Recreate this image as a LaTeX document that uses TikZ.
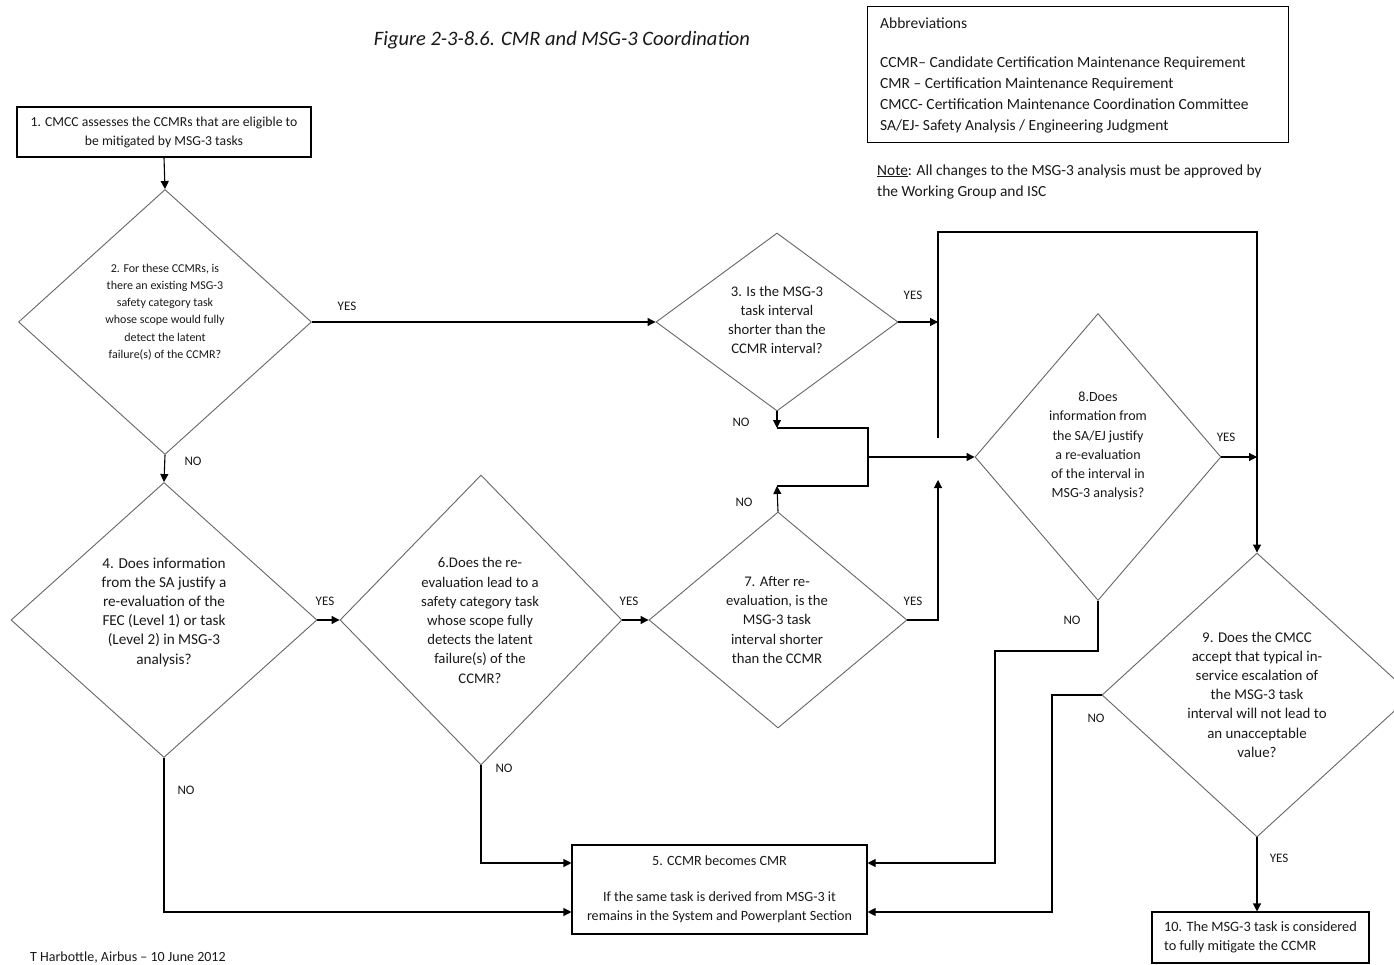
\documentclass[tikz,border=0pt]{standalone}
\usepackage{fontspec}
\setmainfont{Carlito}
\usetikzlibrary{shapes.geometric,arrows.meta}
\begin{document}
\begin{tikzpicture}[x=1pt,y=-1pt,
  every node/.style={inner sep=0pt, text=black!90},
  dia/.style={diamond, draw=black!60, line width=0.9pt, inner sep=0pt},
  qtext/.style={align=center, font=\fontsize{14.7}{19.2}\selectfont},
  boxnode/.style={draw=black, line width=1.1pt, align=center},
  lbl/.style={font=\fontsize{13}{14}\selectfont},
  arr/.style={line width=1.1pt, -{Triangle[length=8pt,width=8pt]}},
  ln/.style={line width=1.1pt},
]
\clip (0,0) rectangle (1394,965);
\fill[white] (0,0) rectangle (1394,965);

% title
\node[font=\fontsize{20.5}{24}\selectfont\itshape] (title) at (562,40) {Figure 2-3-8.6. CMR and MSG-3 Coordination};

% abbreviations
\node[draw=black, line width=1.1pt, minimum width=421, minimum height=136, anchor=north west] (abb) at (867,6) {};
\node[anchor=north west, align=left, font=\fontsize{15.5}{21}\selectfont] (abbt) at (880,17.5) {Abbreviations\\[18pt]
CCMR-- Candidate Certification Maintenance Requirement\\
CMR -- Certification Maintenance Requirement\\
CMCC- Certification Maintenance Coordination Committee\\
SA/EJ- Safety Analysis / Engineering Judgment};
\node[anchor=west, align=left, font=\fontsize{15.4}{21}\selectfont] (note) at (877,181.5) {\underline{Note}: All changes to the MSG-3 analysis must be approved by\\the Working Group and ISC};

% credit
\node[anchor=west, font=\fontsize{14}{16}\selectfont] (credit) at (30,957.5) {T Harbottle, Airbus -- 10 June 2012};

% boxes
\node[boxnode, minimum width=294, minimum height=50, font=\fontsize{13.7}{19}\selectfont] (b1) at (164,132) {1. CMCC assesses the CCMRs that are eligible to\\be mitigated by MSG-3 tasks};
\node[boxnode, minimum width=295, minimum height=89, font=\fontsize{14.1}{19}\selectfont] (b5) at (719.5,889.5) {5. CCMR becomes CMR\\[17pt]If the same task is derived from MSG-3 it\\remains in the System and Powerplant Section};
\node[draw=black, line width=1.1pt, minimum width=217, minimum height=51, align=left, font=\fontsize{14.3}{19}\selectfont] (b10) at (1260.5,937.5) {10. The MSG-3 task is considered\\to fully mitigate the CCMR};

% diamonds
\node[dia, minimum width=293, minimum height=265] (d2) at (165,322) {};
\node[qtext, font=\fontsize{12}{17.2}\selectfont] (d2t) at (165,312) {2. For these CCMRs, is\\there an existing MSG-3\\safety category task\\whose scope would fully\\detect the latent\\failure(s) of the CCMR?};

\node[dia, minimum width=242, minimum height=178] (d3) at (777,322) {};
\node[qtext] (d3t) at (777,320) {3. Is the MSG-3\\task interval\\shorter than the\\CCMR interval?};

\node[dia, minimum width=306, minimum height=275] (d4) at (164,620) {};
\node[qtext, font=\fontsize{15.2}{19.2}\selectfont] (d4t) at (164,612) {4. Does information\\from the SA justify a\\re-evaluation of the\\FEC (Level 1) or task\\(Level 2) in MSG-3\\analysis?};

\node[dia, minimum width=282, minimum height=290] (d6) at (481,620) {};
\node[qtext] (d6t) at (480,620.5) {6.Does the re-\\evaluation lead to a\\safety category task\\whose scope fully\\detects the latent\\failure(s) of the\\CCMR?};

\node[dia, minimum width=258, minimum height=216] (d7) at (778,620) {};
\node[qtext] (d7t) at (777,620) {7. After re-\\evaluation, is the\\MSG-3 task\\interval shorter\\than the CCMR};

\node[dia, minimum width=246, minimum height=287] (d8) at (1098,457) {};
\node[qtext, font=\fontsize{14}{19.2}\selectfont] (d8t) at (1098,446) {8.Does\\information from\\the SA/EJ justify\\a re-evaluation\\of the interval in\\MSG-3 analysis?};

\node[dia, minimum width=310, minimum height=284] (d9) at (1257,695) {};
\node[qtext, font=\fontsize{14.9}{19.2}\selectfont] (d9t) at (1257,694.5) {9. Does the CMCC\\accept that typical in-\\service escalation of\\the MSG-3 task\\interval will not lead to\\an unacceptable\\value?};

% free-end coordinates
\coordinate (j3) at (938,322);
\coordinate (c1) at (938,438);
\coordinate (n3) at (777,428);
\coordinate (n7) at (777,486);
\coordinate (m) at (868,457);
\coordinate (y8) at (1257,457);
\coordinate (y7) at (938,480);

% connectors
\draw[arr] (b1.south) -- (d2.north);
\draw[arr] (d2.east) -- (d3.west);
\draw[arr] (d2.south) -- (d4.north);
\draw[arr] (d3.east) -- (j3);
\draw[arr] (c1) -- (938,232) -| (d9.north);
\draw[arr] (d3.south) -- (n3);
\draw[ln] (n3) -- (868,428) -- (868,486) -- (n7);
\draw[arr] (d7.north) -- (n7);
\draw[arr] (m) -- (d8.west);
\draw[arr] (d8.east) -- (y8);
\draw[arr] (d8.south) -- (1098,651) -- (995,651) |- (b5.east |- 0,863);
\draw[arr] (d9.west) -- (1052,695) |- (b5.east |- 0,912);
\draw[arr] (d9.south) -- (d9.south |- b10.north);
\draw[arr] (d4.east) -- (d6.west);
\draw[arr] (d6.east) -- (d7.west);
\draw[arr] (d7.east) -| (y7);
\draw[arr] (d6.south) |- (b5.west |- 0,863);
\draw[arr] (d4.south) |- (b5.west |- 0,912);

% labels
\node[lbl] (l2y) at (347,306) {YES};
\node[lbl] (l2n) at (193,461) {NO};
\node[lbl] (l3y) at (913,295) {YES};
\node[lbl] (l3n) at (741,422) {NO};
\node[lbl] (l4y) at (325,601) {YES};
\node[lbl] (l4n) at (186,790) {NO};
\node[lbl] (l6y) at (629,601) {YES};
\node[lbl] (l6n) at (504,768) {NO};
\node[lbl] (l7y) at (913,601) {YES};
\node[lbl] (l7n) at (744,502) {NO};
\node[lbl] (l8y) at (1226,437) {YES};
\node[lbl] (l8n) at (1072,620) {NO};
\node[lbl] (l9n) at (1096,718) {NO};
\node[lbl] (l9y) at (1279,858) {YES};
\end{tikzpicture}
\end{document}
